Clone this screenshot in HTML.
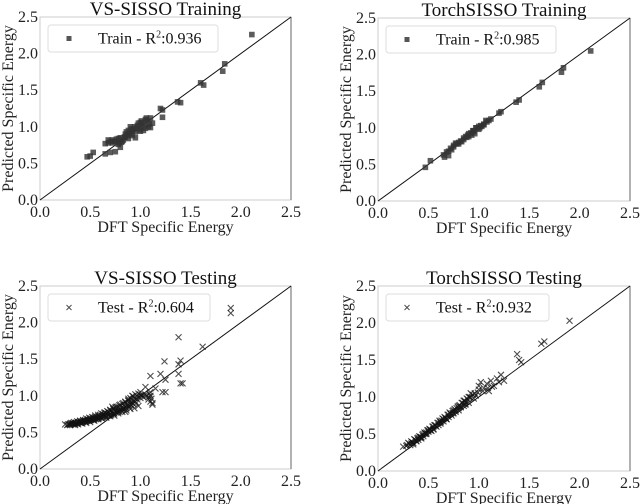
<!DOCTYPE html>
<html><head><meta charset="utf-8"><style>
body{margin:0;background:#fff}
svg{display:block}
svg text{font-family:"Liberation Serif","DejaVu Serif",serif}
</style></head><body>
<svg id="fig" width="640" height="504" viewBox="0 0 640 504" xmlns="http://www.w3.org/2000/svg" font-family="Liberation Serif, DejaVu Serif, serif"></svg>
<script>
const ticks=[0,0.5,1.0,1.5,2.0,2.5];
const tickLabels=["0.0","0.5","1.0","1.5","2.0","2.5"];
const titles=["VS-SISSO Training","TorchSISSO Training","VS-SISSO Testing","TorchSISSO Testing"];
const legendLabels=["Train - R","Train - R","Test - R","Test - R"];
const r2Values=["0.936","0.985","0.604","0.932"];
const vsTrainX=[0.47,0.50,0.53,0.65,0.68,0.70,0.72,0.75,0.78,0.80,0.82,0.85,0.88,0.90,0.92,0.95,0.97,1.00,1.02,1.05,1.05,1.08,1.10,1.12,0.70,0.75,0.80,0.85,0.90,1.00,1.03,1.20,1.22,1.22,1.37,1.40,1.60,1.63,1.82,1.84,2.11,0.65,0.72,0.78,0.93,0.98,1.10,0.88,0.95,1.07,0.74,0.83,0.87,0.92,0.96,1.04,1.06,0.79,0.68,1.00,0.86,0.91,0.94,0.99,1.01,1.09,0.76,0.81,0.84,0.89];
const vsTrainY=[0.59,0.60,0.65,0.77,0.78,0.80,0.82,0.80,0.84,0.85,0.80,0.90,0.95,1.00,0.88,0.93,1.02,1.00,1.05,1.10,0.98,1.00,1.12,1.05,0.65,0.66,0.72,0.86,0.90,0.94,0.95,1.25,1.13,1.23,1.34,1.33,1.60,1.57,1.76,1.86,2.26,0.63,0.78,0.76,0.97,1.05,0.99,0.84,0.85,1.08,0.80,0.82,0.88,0.95,0.98,1.02,1.12,0.78,0.82,1.06,0.93,0.97,1.00,0.96,1.08,1.04,0.83,0.79,0.86,0.91];
const tsTrainX=[0.47,0.52,0.65,0.68,0.70,0.72,0.75,0.78,0.80,0.82,0.85,0.88,0.90,0.92,0.95,0.97,1.00,1.02,1.05,1.08,1.10,1.12,0.70,0.75,0.80,0.85,0.90,0.95,1.00,1.05,1.20,1.22,1.37,1.40,1.60,1.63,1.82,1.84,2.11,0.73,0.77,0.83,0.87,0.93,0.98,1.03,1.07,0.66,0.89,0.94,0.96,1.01];
const tsTrainY=[0.46,0.55,0.63,0.67,0.68,0.72,0.74,0.78,0.80,0.82,0.86,0.87,0.92,0.93,0.96,1.00,0.98,1.03,1.05,1.08,1.10,1.12,0.62,0.76,0.78,0.84,0.88,0.95,1.02,1.04,1.20,1.22,1.35,1.38,1.56,1.62,1.76,1.82,2.05,0.70,0.79,0.81,0.88,0.90,1.00,1.02,1.10,0.60,0.90,0.96,0.92,1.00];
const vsTestX=[0.25,0.28,0.30,0.32,0.33,0.35,0.36,0.38,0.40,0.40,0.42,0.43,0.45,0.45,0.47,0.48,0.50,0.50,0.52,0.53,0.55,0.55,0.57,0.58,0.60,0.60,0.62,0.63,0.65,0.65,0.67,0.68,0.70,0.70,0.72,0.73,0.75,0.75,0.77,0.78,0.80,0.80,0.82,0.83,0.85,0.85,0.87,0.88,0.90,0.90,0.92,0.93,0.95,0.95,0.97,0.98,1.00,1.00,1.02,1.05,1.08,1.10,1.10,1.12,0.30,0.35,0.38,0.42,0.46,0.50,0.54,0.58,0.62,0.66,0.70,0.74,0.78,0.82,0.86,0.90,0.94,0.98,0.88,0.92,0.96,1.90,1.90,1.38,1.62,1.24,1.40,1.38,1.40,1.42,1.10,1.20,1.25,1.22,1.25,1.10,1.12,1.38,1.05,1.15,0.72,0.85,1.08,
0.27,0.29,0.31,0.33,0.34,0.36,0.37,0.39,0.41,0.43,0.44,0.46,0.48,0.49,0.51,0.53,0.54,0.56,0.58,0.59,0.61,0.63,0.64,0.66,0.68,0.69,0.71,0.73,0.74,0.76,0.78,0.79,0.81,0.83,0.84,0.86,0.88,0.89,0.91,0.93,
0.31,0.34,0.37,0.40,0.43,0.46,0.49,0.52,0.55,0.58,0.61,0.64,0.67,0.70,0.73,0.76,0.79,0.82,0.85,0.88,0.91,0.94,0.97,1.00,1.03,1.06,1.09,1.11];
const vsTestY=[0.61,0.61,0.62,0.62,0.63,0.62,0.63,0.64,0.63,0.65,0.64,0.66,0.65,0.67,0.66,0.68,0.67,0.69,0.68,0.70,0.69,0.71,0.70,0.72,0.71,0.74,0.72,0.75,0.73,0.77,0.75,0.78,0.76,0.80,0.77,0.82,0.79,0.84,0.80,0.85,0.82,0.88,0.84,0.90,0.85,0.92,0.87,0.94,0.88,0.97,0.90,0.99,0.92,1.02,0.95,1.03,0.97,1.05,1.00,1.02,0.95,0.92,1.05,0.88,0.60,0.60,0.61,0.62,0.63,0.64,0.66,0.68,0.69,0.70,0.72,0.73,0.76,0.78,0.80,0.82,0.83,0.86,0.96,1.00,0.90,2.20,2.13,1.80,1.67,1.47,1.48,1.30,1.17,1.17,1.27,1.30,1.22,1.05,1.05,1.00,0.90,1.43,1.12,1.10,0.85,0.78,0.98,
0.60,0.61,0.61,0.62,0.61,0.63,0.62,0.64,0.63,0.64,0.65,0.65,0.66,0.66,0.67,0.67,0.68,0.68,0.69,0.70,0.70,0.71,0.72,0.72,0.73,0.74,0.74,0.75,0.76,0.77,0.78,0.79,0.80,0.81,0.82,0.83,0.85,0.86,0.87,0.89,
0.63,0.64,0.65,0.66,0.67,0.69,0.70,0.71,0.73,0.74,0.76,0.77,0.79,0.81,0.83,0.85,0.87,0.89,0.91,0.93,0.95,0.97,0.99,1.01,0.98,1.00,1.03,0.96];
const tsTestX=[0.25,0.28,0.30,0.32,0.33,0.35,0.36,0.38,0.40,0.40,0.42,0.43,0.45,0.45,0.47,0.48,0.50,0.50,0.52,0.53,0.55,0.55,0.57,0.58,0.60,0.60,0.62,0.63,0.65,0.65,0.67,0.68,0.70,0.70,0.72,0.73,0.75,0.75,0.77,0.78,0.80,0.80,0.82,0.83,0.85,0.85,0.87,0.88,0.90,0.90,0.92,0.95,0.97,1.00,1.02,1.05,1.08,1.10,1.12,1.15,1.18,1.20,1.22,1.25,1.38,1.40,1.42,1.62,1.65,1.90,0.35,0.42,0.48,0.55,0.62,0.68,0.74,0.80,0.86,1.00,
0.29,0.31,0.34,0.37,0.39,0.41,0.44,0.46,0.49,0.51,0.54,0.56,0.59,0.61,0.64,0.66,0.69,0.71,0.74,0.76,0.79,0.81,0.84,0.86,0.89,0.91,0.94,0.96,0.99,1.04,1.09,1.13,
0.33,0.38,0.43,0.47,0.52,0.57,0.62,0.67,0.72,0.77,0.82,0.87,0.92];
const tsTestY=[0.33,0.34,0.38,0.35,0.40,0.38,0.43,0.40,0.45,0.42,0.46,0.44,0.50,0.47,0.50,0.52,0.53,0.55,0.56,0.54,0.60,0.57,0.62,0.60,0.65,0.62,0.66,0.68,0.70,0.67,0.72,0.70,0.76,0.73,0.78,0.75,0.82,0.78,0.80,0.85,0.88,0.82,0.86,0.92,0.95,0.88,0.90,0.98,1.00,0.92,1.05,0.98,1.02,1.15,1.20,1.12,1.18,1.08,1.22,1.15,1.25,1.20,1.30,1.22,1.58,1.50,1.47,1.72,1.75,2.03,0.36,0.45,0.50,0.56,0.64,0.70,0.78,0.85,0.90,1.10,
0.35,0.37,0.39,0.42,0.44,0.47,0.49,0.52,0.55,0.57,0.60,0.62,0.65,0.68,0.71,0.73,0.76,0.79,0.81,0.84,0.87,0.89,0.92,0.95,0.97,1.00,1.03,1.05,1.06,1.08,1.12,1.14,
0.37,0.41,0.46,0.51,0.55,0.61,0.66,0.71,0.77,0.82,0.87,0.93,0.99];
const panelX=[vsTrainX,tsTrainX,vsTestX,tsTestX];
const panelY=[vsTrainY,tsTrainY,vsTestY,tsTestY];

const NS="http://www.w3.org/2000/svg";
const svg=document.getElementById('fig');
const FF='"Liberation Serif","DejaVu Serif",serif';
function mk(tag,attrs,parent){const e=document.createElementNS(NS,tag);for(const k in attrs)e.setAttribute(k,attrs[k]);if(tag==='text')e.style.fontFamily=FF;(parent||svg).appendChild(e);return e;}
const boxes=[{x0:40,x1:291,y0:200,y1:17},{x0:378,x1:630,y0:201,y1:18},{x0:40,x1:291,y0:469,y1:286},{x0:378,x1:630,y0:471,y1:286}];
const slugs=["vs-sisso-training","torchsisso-training","vs-sisso-testing","torchsisso-testing"];
boxes.forEach((b,i)=>{
  const sx=v=>b.x0+(b.x1-b.x0)*v/2.5;
  const sy=v=>b.y0+(b.y1-b.y0)*v/2.5;
  const g=mk('g',{});
  
  
  const fr=mk('rect',{x:b.x0,y:b.y1,width:b.x1-b.x0,height:b.y0-b.y1,fill:'none',stroke:'#ccc','stroke-width':1},g);
  
  
  const rs=mk('line',{x1:b.x1,y1:b.y1,x2:b.x1,y2:b.y0,stroke:'#999','stroke-width':1.5},g);
  
  
  const diag=mk('line',{x1:sx(0),y1:sy(0),x2:sx(2.5),y2:sy(2.5),stroke:'#111','stroke-width':1},g);
  
  
  const xs=panelX[i],ys=panelY[i];
  for(let k=0;k<xs.length;k++){
    const cx=sx(xs[k]),cy=sy(ys[k]);
    let m;
    if(i<2){m=mk('rect',{x:cx-2.8,y:cy-2.8,width:5.6,height:5.6,fill:'#333','fill-opacity':0.8},g);}
    else{m=mk('path',{d:`M${cx-3},${cy-3}L${cx+3},${cy+3}M${cx-3},${cy+3}L${cx+3},${cy-3}`,stroke:'#111','stroke-opacity':0.75,'stroke-width':1.1,fill:'none'},g);}
    
    
  }
  ticks.forEach((t,j)=>{
    const xl=mk('text',{x:sx(t),y:b.y0+17,'font-size':16,'text-anchor':'middle',fill:'#222'},g);xl.textContent=tickLabels[j];
    
    
    const yl=mk('text',{x:b.x0-2,y:sy(t)+5,'font-size':16,'text-anchor':'end',fill:'#222'},g);yl.textContent=tickLabels[j];
    
    
  });
  const ti=mk('text',{x:(b.x0+b.x1)/2,y:b.y1-2,'font-size':19,'text-anchor':'middle',fill:'#111'},g);ti.textContent=titles[i];
  
  
  const xt=mk('text',{x:(b.x0+b.x1)/2,y:b.y0+32,'font-size':16,'text-anchor':'middle',fill:'#222'},g);xt.textContent='DFT Specific Energy';
  
  
  const yc=(b.y0+b.y1)/2, yx=b.x0-27;
  const yt=mk('text',{x:yx,y:yc,'font-size':16,'text-anchor':'middle',fill:'#222',transform:`rotate(-90 ${yx} ${yc})`},g);yt.textContent='Predicted Specific Energy';
  
  
  const lx=b.x0+8, ly=b.y1+8, lw=i===2?162:(i===3?163:170);
  const lg=mk('g',{},g);
  
  
  mk('rect',{x:lx,y:ly,width:lw,height:27,rx:3,fill:'#fff',stroke:'#ddd','stroke-width':1},lg);
  const mx=lx+21,my=ly+13.5;
  if(i<2)mk('rect',{x:mx-2.5,y:my-2.5,width:5,height:5,fill:'#555'},lg);
  else mk('path',{d:`M${mx-2.5},${my-2.5}L${mx+2.5},${my+2.5}M${mx-2.5},${my+2.5}L${mx+2.5},${my-2.5}`,stroke:'#444','stroke-width':0.9},lg);
  const lt=mk('text',{x:lx+50,y:my+5,'font-size':16,fill:'#111'},lg);
  
  
  lt.appendChild(document.createTextNode(legendLabels[i]));
  const sup=mk('tspan',{dy:-6,'font-size':10},lt);sup.textContent='2';
  const rest=mk('tspan',{dy:6},lt);rest.textContent=':'+r2Values[i];
});
</script>
</body></html>
